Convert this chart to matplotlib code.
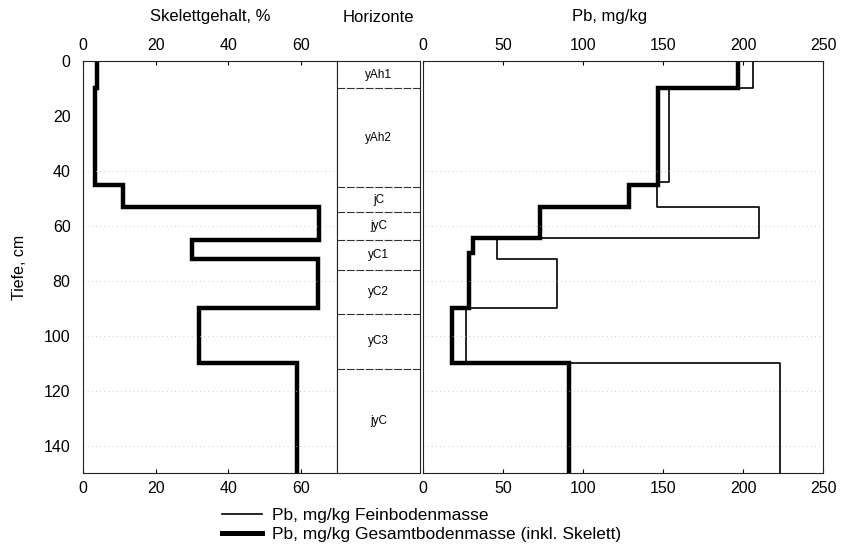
import matplotlib
matplotlib.use('Agg')
import matplotlib.pyplot as plt
from matplotlib.lines import Line2D

plt.rcParams['font.family'] = ['Liberation Sans', 'DejaVu Sans']

# Skelettgehalt, % (layer top, layer bottom, value)
skel_top = [0, 10, 45, 53, 65, 72, 90, 110]
skel_bot = [10, 45, 53, 65, 72, 90, 110, 150]
skel_val = [3.9, 3.3, 11, 65, 30, 64.7, 32, 59]

# Pb, mg/kg Feinbodenmasse
fein_top = [0, 10, 44, 53, 64.5, 72, 90, 110]
fein_bot = [10, 44, 53, 64.5, 72, 90, 110, 150]
fein_val = [206, 154, 146, 210, 46, 84, 27, 223]

# Pb, mg/kg Gesamtbodenmasse (inkl. Skelett)
ges_top = [0, 10, 45, 53, 64.5, 70, 90, 110]
ges_bot = [10, 45, 53, 64.5, 70, 90, 110, 150]
ges_val = [197, 147, 129, 73, 31, 29, 18, 91]

# Horizonte
hor_names = ['yAh1', 'yAh2', 'jC', 'jyC', 'yC1', 'yC2', 'yC3', 'jyC']
hor_bounds = [0, 10, 46, 55, 65, 76, 92, 112, 150]


def profile(tops, bots, vals):
    xs, ys = [], []
    for t, b, v in zip(tops, bots, vals):
        xs += [v, v]
        ys += [t, b]
    return xs, ys


W, H = 843, 560
fig = plt.figure(figsize=(W / 100, H / 100), dpi=100)

bottom = 1 - 473 / H
height = (473 - 61) / H
ax1 = fig.add_axes([83 / W, bottom, (337 - 83) / W, height])
ax2 = fig.add_axes([337 / W, bottom, (420 - 337) / W, height])
ax3 = fig.add_axes([423 / W, bottom, (823 - 423) / W, height])

fs = 11.5
for ax in (ax1, ax2, ax3):
    ax.set_ylim(150, 0)
    for s in ax.spines.values():
        s.set_linewidth(0.8)
        s.set_color('#222222')

grid_y = [40, 60, 80, 100, 120, 140]

# left panel
x, y = profile(skel_top, skel_bot, skel_val)
ax1.plot(x, y, color='black', lw=3.2, solid_joinstyle='miter')
ax1.set_xlim(0, 70)
ax1.set_xticks([0, 20, 40, 60])
ax1.set_yticks(range(0, 141, 20))
ax1.tick_params(axis='x', top=True, labeltop=True, direction='in', length=3,
                labelsize=fs, pad=6)
ax1.tick_params(axis='y', direction='in', length=0, labelsize=fs, pad=9)
ax1.set_ylabel('Tiefe, cm', fontsize=fs, labelpad=12)
for g in grid_y:
    ax1.axhline(g, color='#bbbbbb', lw=0.6, ls=(0, (1, 4)))

# middle panel
ax2.set_xlim(0, 1)
ax2.set_xticks([])
ax2.set_yticks([])
for b in hor_bounds[1:-1]:
    ax2.axhline(b, color='#333333', lw=0.8, ls=(0, (7, 1.5)))
for name, t, b in zip(hor_names, hor_bounds[:-1], hor_bounds[1:]):
    ax2.text(0.5, (t + b) / 2, name, ha='center', va='center', fontsize=8.5)

# right panel
x, y = profile(fein_top, fein_bot, fein_val)
ax3.plot(x, y, color='black', lw=1.2)
x, y = profile(ges_top, ges_bot, ges_val)
ax3.plot(x, y, color='black', lw=3.2, solid_joinstyle='miter')
ax3.set_xlim(0, 250)
ax3.set_xticks([0, 50, 100, 150, 200, 250])
ax3.set_yticks(range(0, 141, 20))
ax3.tick_params(axis='x', top=True, labeltop=True, direction='in', length=3,
                labelsize=fs, pad=6)
ax3.tick_params(axis='y', left=False, labelleft=False)
for g in grid_y:
    ax3.axhline(g, color='#bbbbbb', lw=0.6, ls=(0, (1, 4)))

# titles
fig.text(210 / W, 1 - 17 / H, 'Skelettgehalt, %', ha='center', va='center', fontsize=12)
fig.text(378 / W, 1 - 17 / H, 'Horizonte', ha='center', va='center', fontsize=12)
fig.text(610 / W, 1 - 17 / H, 'Pb, mg/kg', ha='center', va='center', fontsize=12)

handles = [Line2D([], [], color='black', lw=1.2),
           Line2D([], [], color='black', lw=3.6)]
fig.legend(handles, ['Pb, mg/kg Feinbodenmasse',
                     'Pb, mg/kg Gesamtbodenmasse (inkl. Skelett)'],
           loc='upper left', bbox_to_anchor=(222 / W, 1 - 508 / H),
           frameon=False, fontsize=12.5, handlelength=2.3, handletextpad=0.6,
           labelspacing=0.2, borderpad=0, borderaxespad=0)

fig.savefig('out.png', dpi=100)
